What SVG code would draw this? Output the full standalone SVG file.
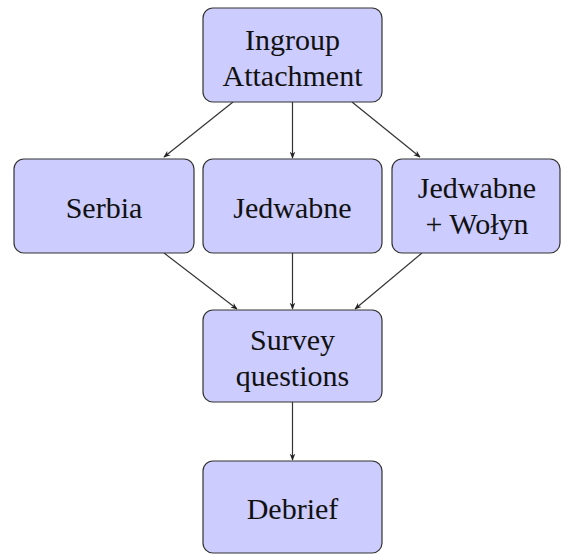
<svg xmlns="http://www.w3.org/2000/svg" width="561" height="554" viewBox="0 0 561 554">
<defs>
<marker id="ah" viewBox="0 0 10 10" refX="9" refY="5" markerWidth="7" markerHeight="7" orient="auto" markerUnits="userSpaceOnUse">
<path d="M0,1 L10,5 L0,9 L3,5 Z" fill="#222"/>
</marker>
<style>
.box{fill:#ccccff;stroke:#333;stroke-width:1.2}
.t{font-family:'Liberation Serif','Times New Roman',serif;font-size:30px;fill:#111;text-anchor:middle}
.e{stroke:#333;stroke-width:1.2;fill:none;marker-end:url(#ah)}
</style>
</defs>
<rect width="561" height="554" fill="#fff"/>
<g id="connectors">
<line class="e" x1="233" y1="102" x2="164" y2="157"/>
<line class="e" x1="292.5" y1="102" x2="292.5" y2="158"/>
<line class="e" x1="352" y1="102" x2="420" y2="157"/>
<line class="e" x1="164" y1="253" x2="237" y2="309"/>
<line class="e" x1="292.5" y1="253" x2="292.5" y2="309"/>
<line class="e" x1="422" y1="253" x2="355" y2="309"/>
<line class="e" x1="292.5" y1="402" x2="292.5" y2="460"/>
</g>
<g id="ingroup">
<rect class="box" x="203" y="8" width="179" height="94" rx="10"/>
<text class="t" x="292.5" y="50">Ingroup</text>
<text class="t" x="292.5" y="86">Attachment</text>
</g>
<g id="serbia">
<rect class="box" x="14" y="159" width="180" height="94" rx="10"/>
<text class="t" x="104" y="218">Serbia</text>
</g>
<g id="jedwabne">
<rect class="box" x="203" y="159" width="179" height="94" rx="10"/>
<text class="t" x="292.5" y="218">Jedwabne</text>
</g>
<g id="jedwabne-wolyn">
<rect class="box" x="392" y="159" width="168" height="94" rx="10"/>
<text class="t" x="477" y="198">Jedwabne</text>
<text class="t" x="477" y="234">+ Wołyn</text>
</g>
<g id="survey">
<rect class="box" x="203" y="310" width="179" height="92" rx="10"/>
<text class="t" x="292.5" y="350">Survey</text>
<text class="t" x="292.5" y="386">questions</text>
</g>
<g id="debrief">
<rect class="box" x="203" y="461" width="179" height="92" rx="10"/>
<text class="t" x="292.5" y="519">Debrief</text>
</g>
</svg>
